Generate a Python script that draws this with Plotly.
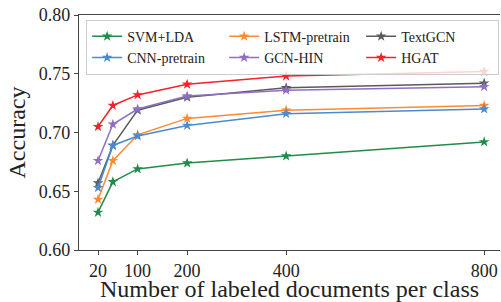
import plotly.graph_objects as go

x_vals = [20, 50, 100, 200, 400, 800]
svm_lda = [0.632, 0.658, 0.669, 0.674, 0.680, 0.692]
cnn_pretrain = [0.653, 0.689, 0.697, 0.706, 0.716, 0.720]
lstm_pretrain = [0.643, 0.676, 0.698, 0.712, 0.719, 0.723]
gcn_hin = [0.676, 0.707, 0.720, 0.731, 0.736, 0.739]
text_gcn = [0.657, 0.689, 0.719, 0.730, 0.738, 0.742]
hgat = [0.705, 0.723, 0.732, 0.741, 0.748, 0.752]

x_ticks = [20, 100, 200, 400, 800]
y_ticks = [0.60, 0.65, 0.70, 0.75, 0.80]

series = [
    ("SVM+LDA", svm_lda, "#238b4a", 1),
    ("LSTM-pretrain", lstm_pretrain, "#ff8a33", 2),
    ("TextGCN", text_gcn, "#5a5a5a", 3),
    ("CNN-pretrain", cnn_pretrain, "#4a8ad2", 4),
    ("GCN-HIN", gcn_hin, "#8f6fc6", 5),
    ("HGAT", hgat, "#f5222a", 6),
]

fig = go.Figure()
for name, vals, color, rank in series:
    fig.add_trace(go.Scatter(
        x=x_vals, y=vals, name=name, mode="lines+markers",
        line=dict(color=color, width=1.5),
        marker=dict(symbol="star", size=8, color=color),
        legendrank=rank,
    ))

font_family = "Liberation Serif"
axis_color = "#444444"
text_color = "#222222"
fig.update_layout(
    width=501, height=302,
    margin=dict(l=79, r=1, t=15, b=50),
    paper_bgcolor="white", plot_bgcolor="white",
    font=dict(family=font_family, color=text_color),
    showlegend=True,
    legend=dict(
        orientation="h", x=0.017, y=0.98, xanchor="left", yanchor="top",
        bgcolor="rgba(255,255,255,0.8)", bordercolor="#cccccc", borderwidth=1,
        font=dict(family=font_family, size=14, color=text_color),
        entrywidth=92, entrywidthmode="pixels",
        tracegroupgap=0, itemwidth=30,
    ),
)
fig.update_xaxes(
    range=[-18.4, 832], tickvals=x_ticks, ticktext=[str(t) for t in x_ticks],
    showgrid=False, zeroline=False, showline=True, linecolor=axis_color, linewidth=1.2,
    mirror=True, ticks="outside", ticklen=4, tickcolor=axis_color,
    ticklabeloverflow="allow",
    tickfont=dict(family=font_family, size=18, color=text_color),
    title=dict(text="Number of labeled documents per class",
               font=dict(family=font_family, size=24, color=text_color), standoff=3),
)
fig.update_yaxes(
    range=[0.60, 0.80], tickvals=y_ticks, ticktext=[f"{t:.2f}" for t in y_ticks],
    showgrid=False, zeroline=False, showline=True, linecolor=axis_color, linewidth=1.2,
    ticks="outside", ticklen=4, tickcolor=axis_color,
    ticklabeloverflow="allow",
    tickfont=dict(family=font_family, size=18, color=text_color),
    title=dict(text="Accuracy", font=dict(family=font_family, size=24, color=text_color), standoff=6),
)

fig.write_html(
    "out.html",
    config={"displayModeBar": False},
    post_script="document.body.style.margin='0';document.body.style.overflow='hidden';",
)
